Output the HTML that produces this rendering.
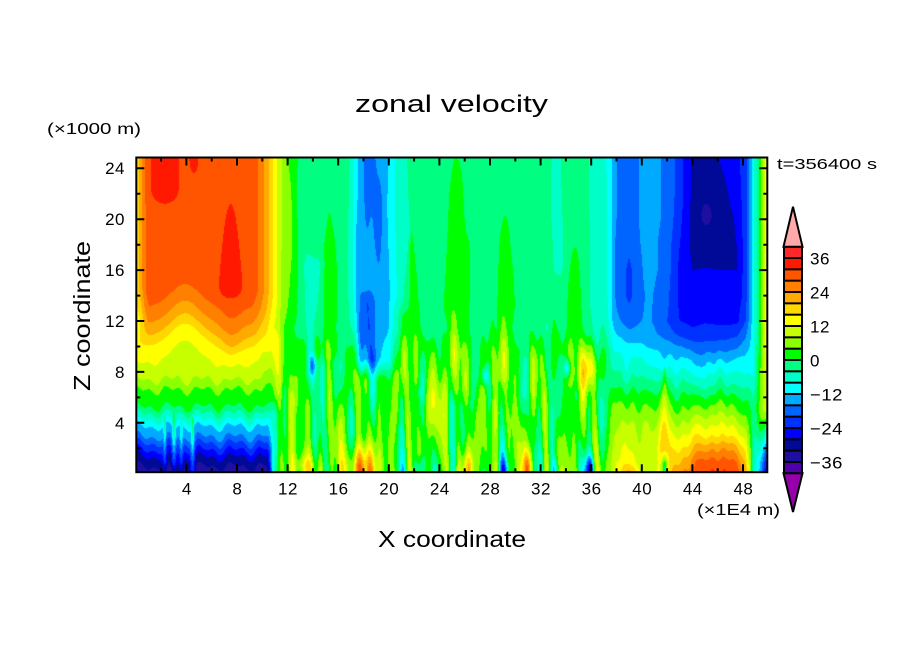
<!DOCTYPE html>
<html><head><meta charset="utf-8">
<style>
html,body{margin:0;padding:0;background:#fff;}
#wrap{position:relative;width:904px;height:654px;overflow:hidden;background:#fff;}
#cv{position:absolute;left:136px;top:157px;width:632px;height:316px;}
svg{position:absolute;left:0;top:0;}
text{font-family:"Liberation Sans",sans-serif;fill:#000;}
</style></head><body>
<div id="wrap">
<canvas id="cv" width="632" height="316"></canvas>
<svg width="904" height="654" viewBox="0 0 904 654" xmlns="http://www.w3.org/2000/svg">
<rect x="136.3" y="157.5" width="631" height="314.7" fill="none" stroke="#000" stroke-width="2"/>
<path stroke="#000" stroke-width="2" fill="none" d="
M161.1,472.2v-4 M186.4,472.2v-8 M211.7,472.2v-4 M237,472.2v-8 M262.3,472.2v-4 M287.6,472.2v-8 M312.9,472.2v-4 M338.2,472.2v-8 M363.5,472.2v-4 M388.8,472.2v-8 M414.1,472.2v-4 M439.4,472.2v-8 M464.7,472.2v-4 M490,472.2v-8 M515.3,472.2v-4 M540.6,472.2v-8 M565.9,472.2v-4 M591.2,472.2v-8 M616.5,472.2v-4 M641.8,472.2v-8 M667.1,472.2v-4 M692.4,472.2v-8 M717.7,472.2v-4 M743,472.2v-8
M161.1,157.5v4 M186.4,157.5v8 M211.7,157.5v4 M237,157.5v8 M262.3,157.5v4 M287.6,157.5v8 M312.9,157.5v4 M338.2,157.5v8 M363.5,157.5v4 M388.8,157.5v8 M414.1,157.5v4 M439.4,157.5v8 M464.7,157.5v4 M490,157.5v8 M515.3,157.5v4 M540.6,157.5v8 M565.9,157.5v4 M591.2,157.5v8 M616.5,157.5v4 M641.8,157.5v8 M667.1,157.5v4 M692.4,157.5v8 M717.7,157.5v4 M743,157.5v8
M136.3,168.3h8 M136.3,193.8h4 M136.3,219.2h8 M136.3,244.7h4 M136.3,270.1h8 M136.3,295.6h4 M136.3,321h8 M136.3,346.5h4 M136.3,371.9h8 M136.3,397.4h4 M136.3,422.8h8 M136.3,448.3h4
M767.3,168.3h-8 M767.3,193.8h-4 M767.3,219.2h-8 M767.3,244.7h-4 M767.3,270.1h-8 M767.3,295.6h-4 M767.3,321h-8 M767.3,346.5h-4 M767.3,371.9h-8 M767.3,397.4h-4 M767.3,422.8h-8 M767.3,448.3h-4"/>
<g font-size="17" text-anchor="end" letter-spacing="0.5">
<text x="125" y="174">24</text>
<text x="125" y="225">20</text>
<text x="125" y="276">16</text>
<text x="125" y="327">12</text>
<text x="125" y="378">8</text>
<text x="125" y="429">4</text>
</g>
<g font-size="17" text-anchor="middle" letter-spacing="0.5">
<text x="186.8" y="494.5">4</text>
<text x="237.4" y="494.5">8</text>
<text x="288" y="494.5">12</text>
<text x="338.6" y="494.5">16</text>
<text x="389.2" y="494.5">20</text>
<text x="439.8" y="494.5">24</text>
<text x="490.4" y="494.5">28</text>
<text x="541" y="494.5">32</text>
<text x="591.6" y="494.5">36</text>
<text x="642.2" y="494.5">40</text>
<text x="692.8" y="494.5">44</text>
<text x="743.4" y="494.5">48</text>
</g>
<text x="355" y="112" font-size="24" textLength="193" lengthAdjust="spacingAndGlyphs">zonal velocity</text>
<text x="378" y="547" font-size="23" textLength="148" lengthAdjust="spacingAndGlyphs">X coordinate</text>
<text transform="translate(90,316) rotate(-90)" text-anchor="middle" font-size="23" textLength="150" lengthAdjust="spacingAndGlyphs">Z coordinate</text>
<text x="47" y="134" font-size="16" textLength="94" lengthAdjust="spacingAndGlyphs">(×1000 m)</text>
<text x="697" y="515" font-size="16" textLength="83" lengthAdjust="spacingAndGlyphs">(×1E4 m)</text>
<text x="777" y="169" font-size="15" textLength="100" lengthAdjust="spacingAndGlyphs">t=356400 s</text>
<rect x="783" y="246.7" width="20" height="226.6" fill="#000"/>
<g>
<rect x="785" y="247.7" width="16" height="9.33" fill="#ff2828"/>
<rect x="785" y="259.03" width="16" height="9.33" fill="#ff1900"/>
<rect x="785" y="270.36" width="16" height="9.33" fill="#ff5500"/>
<rect x="785" y="281.69" width="16" height="9.33" fill="#ff7f00"/>
<rect x="785" y="293.02" width="16" height="9.33" fill="#ffaa00"/>
<rect x="785" y="304.35" width="16" height="9.33" fill="#ffd700"/>
<rect x="785" y="315.68" width="16" height="9.33" fill="#ffff00"/>
<rect x="785" y="327.01" width="16" height="9.33" fill="#c8ff00"/>
<rect x="785" y="338.34" width="16" height="9.33" fill="#8cff00"/>
<rect x="785" y="349.67" width="16" height="9.33" fill="#00ff00"/>
<rect x="785" y="361" width="16" height="9.33" fill="#00ff80"/>
<rect x="785" y="372.33" width="16" height="9.33" fill="#00ffc8"/>
<rect x="785" y="383.66" width="16" height="9.33" fill="#00ffff"/>
<rect x="785" y="394.99" width="16" height="9.33" fill="#00aaff"/>
<rect x="785" y="406.32" width="16" height="9.33" fill="#0064ff"/>
<rect x="785" y="417.65" width="16" height="9.33" fill="#0032ff"/>
<rect x="785" y="428.98" width="16" height="9.33" fill="#0000ff"/>
<rect x="785" y="440.31" width="16" height="9.33" fill="#000a96"/>
<rect x="785" y="451.64" width="16" height="9.33" fill="#1e0fa0"/>
<rect x="785" y="462.97" width="16" height="9.33" fill="#5000aa"/>
</g>
<polygon points="793,206.7 783.5,246.7 802.5,246.7" fill="#ffaaaa" stroke="#000" stroke-width="2"/>
<polygon points="783.5,473.3 802.5,473.3 793,512" fill="#9600aa" stroke="#000" stroke-width="2"/>
<g font-size="17" letter-spacing="0.5">
<text x="810" y="264.5">36</text>
<text x="810" y="298.5">24</text>
<text x="810" y="332.5">12</text>
<text x="810" y="366.5">0</text>
<text x="810" y="400.5" textLength="33" lengthAdjust="spacingAndGlyphs">−12</text>
<text x="810" y="434.5" textLength="33" lengthAdjust="spacingAndGlyphs">−24</text>
<text x="810" y="468.5" textLength="33" lengthAdjust="spacingAndGlyphs">−36</text>
</g>
</svg>
</div>
<script>
(function(){
var HEX=["#5000aa","#1e0fa0","#000a96","#0000ff","#0032ff","#0064ff","#00aaff","#00ffff","#00ffc8","#00ff80","#00ff00","#8cff00","#c8ff00","#ffff00","#ffd700","#ffaa00","#ff7f00","#ff5500","#ff1900","#ff2828"];
var RGB=HEX.map(function(h){return [parseInt(h.substr(1,2),16),parseInt(h.substr(3,2),16),parseInt(h.substr(5,2),16)];});
var PINK=[255,170,170],PURP=[150,0,170];
function ss(a,b,x){var t=(x-a)/(b-a);t=t<0?0:t>1?1:t;return t*t*(3-2*t);}
function pl(z,zs,vs){if(z<=zs[0])return vs[0];for(var i=1;i<zs.length;i++){if(z<=zs[i]){var t=(z-zs[i-1])/(zs[i]-zs[i-1]);return vs[i-1]+t*(vs[i]-vs[i-1]);}}return vs[vs.length-1];}
function gs(d){return Math.exp(-d*d);}
function blob(x,z,xc,zc,sx,sz,a){var dx=(x-xc)/sx,dz=(z-zc)/sz;return a*Math.exp(-dx*dx-dz*dz);}
function streak(x,z,xc,w,zb,zt,a,taper,p){
  if(z<zb-2)return 0;
  var ww=w;
  if(taper){var f=(zt-z)/(zt-zb);if(f<=0)return 0;if(f>1)f=1;ww=w*Math.sqrt(f);if(ww<0.01)ww=0.01;}
  else{if(z>zt+1)return 0;}
  var d=Math.abs(x-xc)/ww;
  var g=p?Math.exp(-Math.pow(d,p)):Math.exp(-d*d);
  var env=ss(zb-1,zb+1,z);
  if(!taper)env*=1-ss(zt-0.7,zt+0.7,z);
  return a*g*env;
}
var Lz=[0.1,0.55,1.33,1.86,2.4,2.9,3.7,4.2,4.74,5.26,6.57,7.36,8.67,10.0,10.8,11.8,13.1,14.5,25];
var Lv=[-35,-32,-28,-24,-20,-16,-12,-8,-4,0,4,8,12,16,20,24,28,30.5,30.5];
function Lf(x,z){
  var up=1.8*gs((x-3.9)/1.6)-0.9*gs((x-7.6)/0.9);
  var lo=0.25*Math.sin(2.5*x+1)+0.2*Math.sin(5.3*x+0.3*z);
  var s=lo+(up-lo)*ss(7,10.5,z);
  var v=pl(z-s,Lz,Lv);
  v+=-12*(1-ss(0,1.1,x))*ss(9.5,12.5,z);
  v+=streak(x,z,2.3,1.0,21.5,30,5,false);
  v+=streak(x,z,4.6,0.35,23.8,30,4,false);
  v+=streak(x,z,7.5,0.95,14,21.2,4.5,true);
  v+=streak(x,z,2.3,0.18,0.3,4.6,9,true);
  v+=streak(x,z,3.0,0.22,0.3,4.8,10,true);
  v+=streak(x,z,3.6,0.2,0.3,4.2,8,true);
  v+=streak(x,z,4.5,0.22,-1,4.4,10,true);
  return v;
}
function noise(x,z){
  return (Math.sin(3.1*x+0.35*z+1.3)+Math.sin(4.7*x-0.25*z+0.4+0.8*Math.sin(0.45*z))+Math.sin(2.2*x+0.5*z+2.9)+Math.sin(6.3*x+0.2*z+4.1)+Math.sin(1.7*x-0.4*z+0.7)+0.7*Math.sin(8.1*x+0.3*z+2.2))/2.8;
}
function Mf(x,z){
  var v=pl(z,[0,2,6,9.5,11.5,25],[3,2.5,1.5,1,-2,-2]);
  v+=pl(z,[0,1.5,3,6,9,11,13],[11,8,6.5,6.5,5.5,2.5,0.8])*noise(x,z);
  v+=streak(x,z,12.4,0.5,5,30,3.5,false);
  v+=streak(x,z,14.0,0.8,6,17,-4,false);
  v+=streak(x,z,15.3,0.9,9,20.5,4.5,true);
  v+=streak(x,z,18.7,1.6,8.2,30,-14,false,4);
  v+=streak(x,z,18.3,0.45,8.8,14,-4.5,false);
  v+=streak(x,z,20.9,0.8,13,30,-4,false);
  v+=streak(x,z,21.8,0.8,7,19,4.5,true);
  v+=streak(x,z,25.3,1.5,6,24.9,4.5,true);
  v+=streak(x,z,29.2,1.2,7,20.3,4.5,true);
  v+=streak(x,z,33.3,0.45,15.5,30,-4,false);
  v+=streak(x,z,34.7,1.0,7,17.8,4.5,true);
  v+=streak(x,z,36.4,0.7,9,30,-4,false);
  v+=blob(x,z,17.8,0.2,0.9,2.0,28);
  v+=blob(x,z,14.0,8.5,0.35,1.0,-15);
  v+=blob(x,z,27.6,7.7,0.28,0.8,-14);
  v+=blob(x,z,34.1,8.3,0.28,0.7,-14);
  v+=blob(x,z,35.8,8.3,0.8,1.8,12);
  v+=blob(x,z,23.3,5,1.2,2,6);
  v+=blob(x,z,28.8,4.5,0.5,2,7);
  v+=blob(x,z,13.3,0.4,0.8,1.2,14);
  v+=blob(x,z,22.5,0.2,0.35,1.2,-18);
  v+=blob(x,z,26.2,0.4,0.4,1.5,16);
  v+=blob(x,z,29.1,0.2,0.4,1.0,-16);
  v+=blob(x,z,31.0,0.4,0.35,1.5,20);
  v+=blob(x,z,33.2,0.3,0.3,1.0,-12);
  v+=blob(x,z,35.9,0.2,0.45,1.2,-22);
  return v;
}
var Zg=[0.1,1,2,3,4,5,6,7,8,9,10,11,12,14,16,18,20,22,25];
var RX=[37.5,38,39,40.5,42,43,44,45,46.5,47.5,48.2,48.8,49.3,49.7,50.1];
var RV=[
 [8,8,7,6,5,4,2,-2,-4,-6,-8,-10,-12,-13,-13,-13,-13,-13,-13],
 [14,12,10,8,6,4,2,-2,-4,-6,-9,-12,-15,-17,-17,-17,-16,-16,-16],
 [22,14,12,10,8,5,2,-2,-6,-8,-11,-15,-18,-21,-21,-19,-18,-18,-18],
 [8,8,9,9,8,5,2,-2,-6,-9,-12,-14,-15,-15,-14,-14,-14,-14,-14],
 [18,14,12,10,7,4,1,-3,-7,-11,-14,-18,-20,-19,-18,-18,-17,-17,-17],
 [24,20,16,12,8,4,0,-4,-8,-12,-16,-21,-24,-25,-25,-24,-23,-22,-22],
 [28,26,20,15,10,5,1,-4,-9,-13,-18,-23,-25,-27,-28,-29,-29,-29,-29],
 [31,28.3,22,15,10.8,6,1.2,-4.4,-8.5,-13.5,-18.5,-22.2,-24.4,-26.1,-27.9,-29,-30,-30.5,-30.5],
 [33,30,24,16,11,6,1,-4,-8,-13,-18,-22,-25,-26.5,-28,-29.5,-30,-29,-27],
 [32,28,22,15,10,5,1,-4,-8,-12,-17,-21,-25,-27,-28,-28,-27.5,-26,-25],
 [22,18,14,10,6,3,0,-4,-8,-11,-14,-17,-20,-22,-22,-22,-22,-22,-22],
 [-4,-4,-3,-3,-2,-2,-3,-6,-8,-9,-10,-10,-10,-10,-10,-10,-10,-10,-10],
 [-12,-10,-6,-2,2,4,3,2,2,1,1,1,1,1,1,1,1,1,1],
 [-24,-20,-14,-6,2,8,9,10,11,12,12,12,12,12,12,12,12,12,12],
 [-26,-24,-18,-10,0,8,10,12,13,14,14,13,13,12,12,12,12,12,12]
];
function Rf(x,z){
  var i=0;
  if(x<=RX[0])i=0;else if(x>=RX[RX.length-1])i=RX.length-2;else{while(i<RX.length-2&&x>RX[i+1])i++;}
  var t=(x-RX[i])/(RX[i+1]-RX[i]);t=t<0?0:t>1?1:t;
  var a=pl(z,Zg,RV[i]),b=pl(z,Zg,RV[i+1]);
  var v=a+(b-a)*t;
  v+=1.5*noise(x,z)*(1-ss(8,11,z));
  v+=blob(x,z,45.1,20.3,0.5,1.0,-4);
  v+=streak(x,z,41.8,0.5,1,8.4,8,true);
  v+=blob(x,z,41.8,0.4,0.25,1.2,-18);
  return v;
}
function F(x,z){
  var k=ss(4,8,z);
  var a=10.3+(9.0-10.3)*k,b=11.3+(13.0-11.3)*k;
  var wL=1-ss(a,b,x);
  var wR=ss(36.5,38.0,x);
  var wM=(1-wL)*(1-wR);
  var v=0;
  if(wL>0)v+=wL*Lf(x,z);
  if(wR>0)v+=wR*Rf(x,z);
  if(wM>0)v+=wM*Mf(x,z);
  v+=streak(x,z,11.0,0.4,5.5,11,6,false);
  return v;
}
var cv=document.getElementById('cv');var ctx=cv.getContext('2d');
var W=632,H=316;var img=ctx.createImageData(W,H);var d=img.data;
for(var j=0;j<H;j++){
  var py=157+j+0.5;var z=24.85-(py-157.5)/12.725;
  for(var i=0;i<W;i++){
    var px=136+i+0.5;var x=(px-135.8)/12.65;
    var v=F(x,z);var c;
    if(v>=40)c=PINK;else if(v<-40)c=PURP;else c=RGB[Math.floor((v+40)/4)];
    var o=(j*W+i)*4;d[o]=c[0];d[o+1]=c[1];d[o+2]=c[2];d[o+3]=255;
  }
}
ctx.putImageData(img,0,0);
})();
</script>
</body></html>
